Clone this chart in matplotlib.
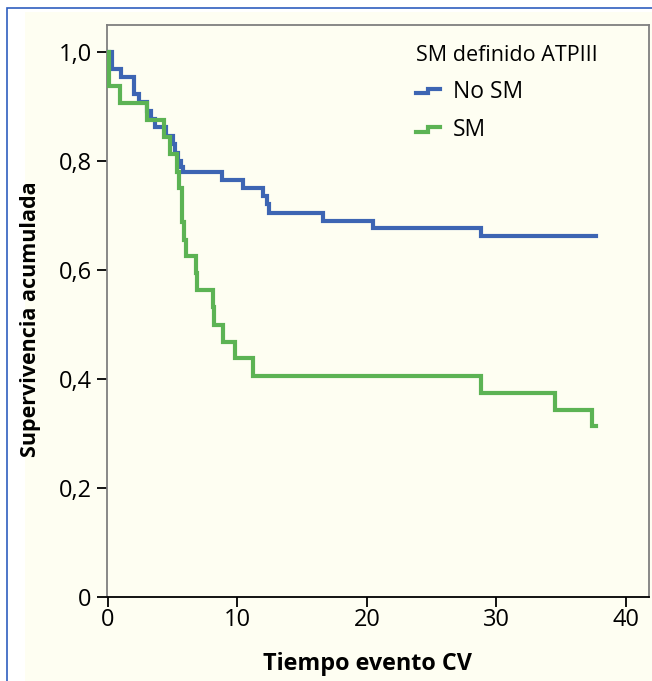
import matplotlib
matplotlib.use("Agg")
import matplotlib.pyplot as plt
from matplotlib.lines import Line2D
from matplotlib.legend_handler import HandlerBase
from matplotlib.patches import Rectangle

# ---- data ----
no_sm_time = [0.0, 0.3, 1.0, 2.0, 2.4, 3.0, 3.3, 3.6, 4.5, 5.0, 5.2, 5.4, 5.6, 5.8,
              8.8, 10.4, 12.0, 12.3, 12.4, 16.6, 20.5, 28.8, 37.7]
no_sm_surv = [1.0, 0.969, 0.954, 0.923, 0.908, 0.892, 0.877, 0.862, 0.846, 0.831, 0.815,
              0.800, 0.790, 0.780, 0.765, 0.750, 0.736, 0.721, 0.705, 0.690, 0.677, 0.662, 0.662]

sm_time = [0.0, 0.1, 0.9, 3.0, 4.3, 4.8, 5.3, 5.5, 5.7, 5.85, 6.0, 6.8, 6.9, 8.1, 8.2,
           8.9, 9.8, 11.2, 28.8, 34.5, 37.4, 37.7]
sm_surv = [1.0, 0.938, 0.906, 0.875, 0.844, 0.813, 0.781, 0.750, 0.688, 0.656, 0.626,
           0.594, 0.563, 0.532, 0.500, 0.469, 0.438, 0.406, 0.375, 0.344, 0.313, 0.313]

y_ticks = [0, 0.2, 0.4, 0.6, 0.8, 1.0]
y_tick_labels = ["0", "0,2", "0,4", "0,6", "0,8", "1,0"]
x_ticks = [0, 10, 20, 30, 40]
x_tick_labels = ["0", "10", "20", "30", "40"]
series_names = ["No SM", "SM"]
legend_title = "SM definido ATPIII"

BLUE = "#3d65b3"
GREEN = "#5cb354"
CREAM = "#fefef2"

plt.rcParams['font.family'] = ['Open Sans', 'DejaVu Sans']

fig = plt.figure(figsize=(6.52, 6.81), dpi=100)
fig.patch.set_facecolor("white")
# cream panel and blue outer frame
fig.patches.append(Rectangle((25 / 652, 0.0), 1 - 25 / 652, 1 - 12 / 681,
                             transform=fig.transFigure, facecolor=CREAM,
                             edgecolor="none", zorder=-3))
fig.patches.append(Rectangle((7 / 652, -0.01), 1.0, 1 - 8 / 681 + 0.01,
                             transform=fig.transFigure, facecolor="none",
                             edgecolor="#2f5fbf", linewidth=1.2, zorder=-2))

ax = fig.add_axes([107 / 652, 1 - 597 / 681, (649 - 107) / 652, (597 - 25) / 681])
ax.set_facecolor(CREAM)

ax.step(no_sm_time, no_sm_surv, where="post", color=BLUE, lw=3.0, zorder=3,
        solid_joinstyle="miter")
ax.step(sm_time, sm_surv, where="post", color=GREEN, lw=3.0, zorder=4,
        solid_joinstyle="miter")

ax.set_xlim(-0.08, 41.8)
ax.set_ylim(0, 1.05)
ax.set_xticks(x_ticks)
ax.set_xticklabels(x_tick_labels)
ax.set_yticks(y_ticks)
ax.set_yticklabels(y_tick_labels)
ax.tick_params(axis="both", labelsize=17, length=7, width=1.3, color="black",
               direction="out")
ax.tick_params(axis="y", pad=4)
ax.tick_params(axis="x", pad=1)

for side in ["left", "top", "right"]:
    ax.spines[side].set_color("#7f7f7f")
    ax.spines[side].set_linewidth(1.3)
ax.spines["bottom"].set_color("black")
ax.spines["bottom"].set_linewidth(1.3)

ax.set_xlabel("Tiempo evento CV", fontsize=16.8, fontweight="bold", labelpad=14)
ax.xaxis.label.set_x(0.48)
ax.set_ylabel("Supervivencia acumulada", fontsize=15.5, fontweight="bold", labelpad=12.5)
ax.yaxis.label.set_y((597 - 319) / 572)


class StepHandler(HandlerBase):
    def create_artists(self, legend, orig_handle, xdescent, ydescent, width, height,
                       fontsize, trans):
        w = width
        h = height
        xs = [-xdescent, -xdescent + 0.5 * w, -xdescent + 0.5 * w, -xdescent + w]
        ys = [-ydescent + 0.3 * h, -ydescent + 0.3 * h, -ydescent + 0.6 * h,
              -ydescent + 0.6 * h]
        ln = Line2D(xs, ys, color=orig_handle.get_color(), lw=3.0,
                    solid_joinstyle="miter", transform=trans)
        return [ln]


handles = [Line2D([], [], color=BLUE), Line2D([], [], color=GREEN)]
leg = ax.legend(handles, series_names, title=legend_title, loc="upper left",
                bbox_to_anchor=((416 - 107) / 542, (597 - 45) / 572), borderpad=0,
                borderaxespad=0, frameon=False, fontsize=16.5,
                title_fontsize=15.5, handlelength=1.05, handletextpad=0.55,
                labelspacing=0.62, alignment="left",
                handler_map={Line2D: StepHandler()})

fig.savefig("out.png", dpi=100, facecolor=fig.get_facecolor())
